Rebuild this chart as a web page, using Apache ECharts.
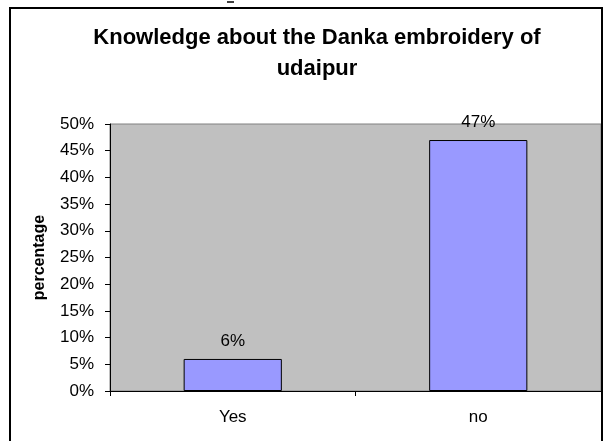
<!DOCTYPE html>
<html>
<head>
<meta charset="utf-8">
<script src="https://cdn.jsdelivr.net/npm/echarts@6/dist/echarts.min.js"></script>
<style>
  html, body { margin: 0; padding: 0; background: #ffffff; }
  #chart { width: 606px; height: 441px; }
</style>
</head>
<body>
<div id="chart"></div>
<script>
// Survey answers and their share of respondents
const categories = ['Yes', 'no'];
const shares = [0.06, 0.47];
const yTicks = { min: 0, max: 0.5, step: 0.05 };

const FONT = '"Liberation Sans", Arial, sans-serif';
const pct = v => Math.round(v * 100) + '%';

const chart = echarts.init(document.getElementById('chart'), null, { renderer: 'canvas' });

chart.setOption({
  animation: false,
  backgroundColor: '#ffffff',
  title: {
    text: 'Knowledge about the Danka embroidery of\nudaipur',
    left: 312,
    top: 17,
    textAlign: 'center',
    textStyle: {
      fontFamily: FONT,
      fontSize: 22,
      fontWeight: 'bold',
      color: '#000000',
      lineHeight: 31
    }
  },
  graphic: [
    {
      // outer chart frame
      type: 'rect',
      silent: true,
      shape: { x: 10, y: 8, width: 592, height: 440 },
      style: { fill: 'none', stroke: '#000000', lineWidth: 2 }
    },
    {
      // clipped underscore above the frame
      type: 'line',
      silent: true,
      shape: { x1: 227, y1: 2, x2: 234, y2: 2 },
      style: { stroke: '#000000', lineWidth: 1.5 }
    }
  ],
  grid: {
    left: 110,
    top: 124,
    right: 5,
    bottom: 50,
    show: true,
    backgroundColor: '#c0c0c0',
    borderColor: '#808080',
    borderWidth: 1
  },
  xAxis: {
    type: 'category',
    data: categories,
    boundaryGap: true,
    axisLine: { show: true, lineStyle: { color: '#000000', width: 1 } },
    axisTick: { show: true, inside: false, length: 5, lineStyle: { color: '#000000' } },
    axisLabel: { fontFamily: FONT, fontSize: 17, color: '#000000', margin: 18 },
    splitLine: { show: false }
  },
  yAxis: {
    type: 'value',
    min: yTicks.min,
    max: yTicks.max,
    interval: yTicks.step,
    name: 'percentage',
    nameLocation: 'middle',
    nameRotate: 90,
    nameGap: 62,
    nameTextStyle: { fontFamily: FONT, fontSize: 16, fontWeight: 'bold', color: '#000000' },
    axisLine: { show: true, lineStyle: { color: '#000000', width: 1 } },
    axisTick: { show: true, inside: false, length: 5, lineStyle: { color: '#000000' } },
    axisLabel: { fontFamily: FONT, fontSize: 17, color: '#000000', margin: 16, formatter: pct },
    splitLine: { show: false }
  },
  series: [
    {
      type: 'bar',
      data: shares,
      barWidth: '40%',
      itemStyle: { color: '#9999ff', borderColor: '#000000', borderWidth: 1 },
      label: {
        show: true,
        position: 'top',
        distance: 9,
        fontFamily: FONT,
        fontSize: 17,
        color: '#000000',
        formatter: p => pct(p.value)
      }
    }
  ]
});
</script>
</body>
</html>
